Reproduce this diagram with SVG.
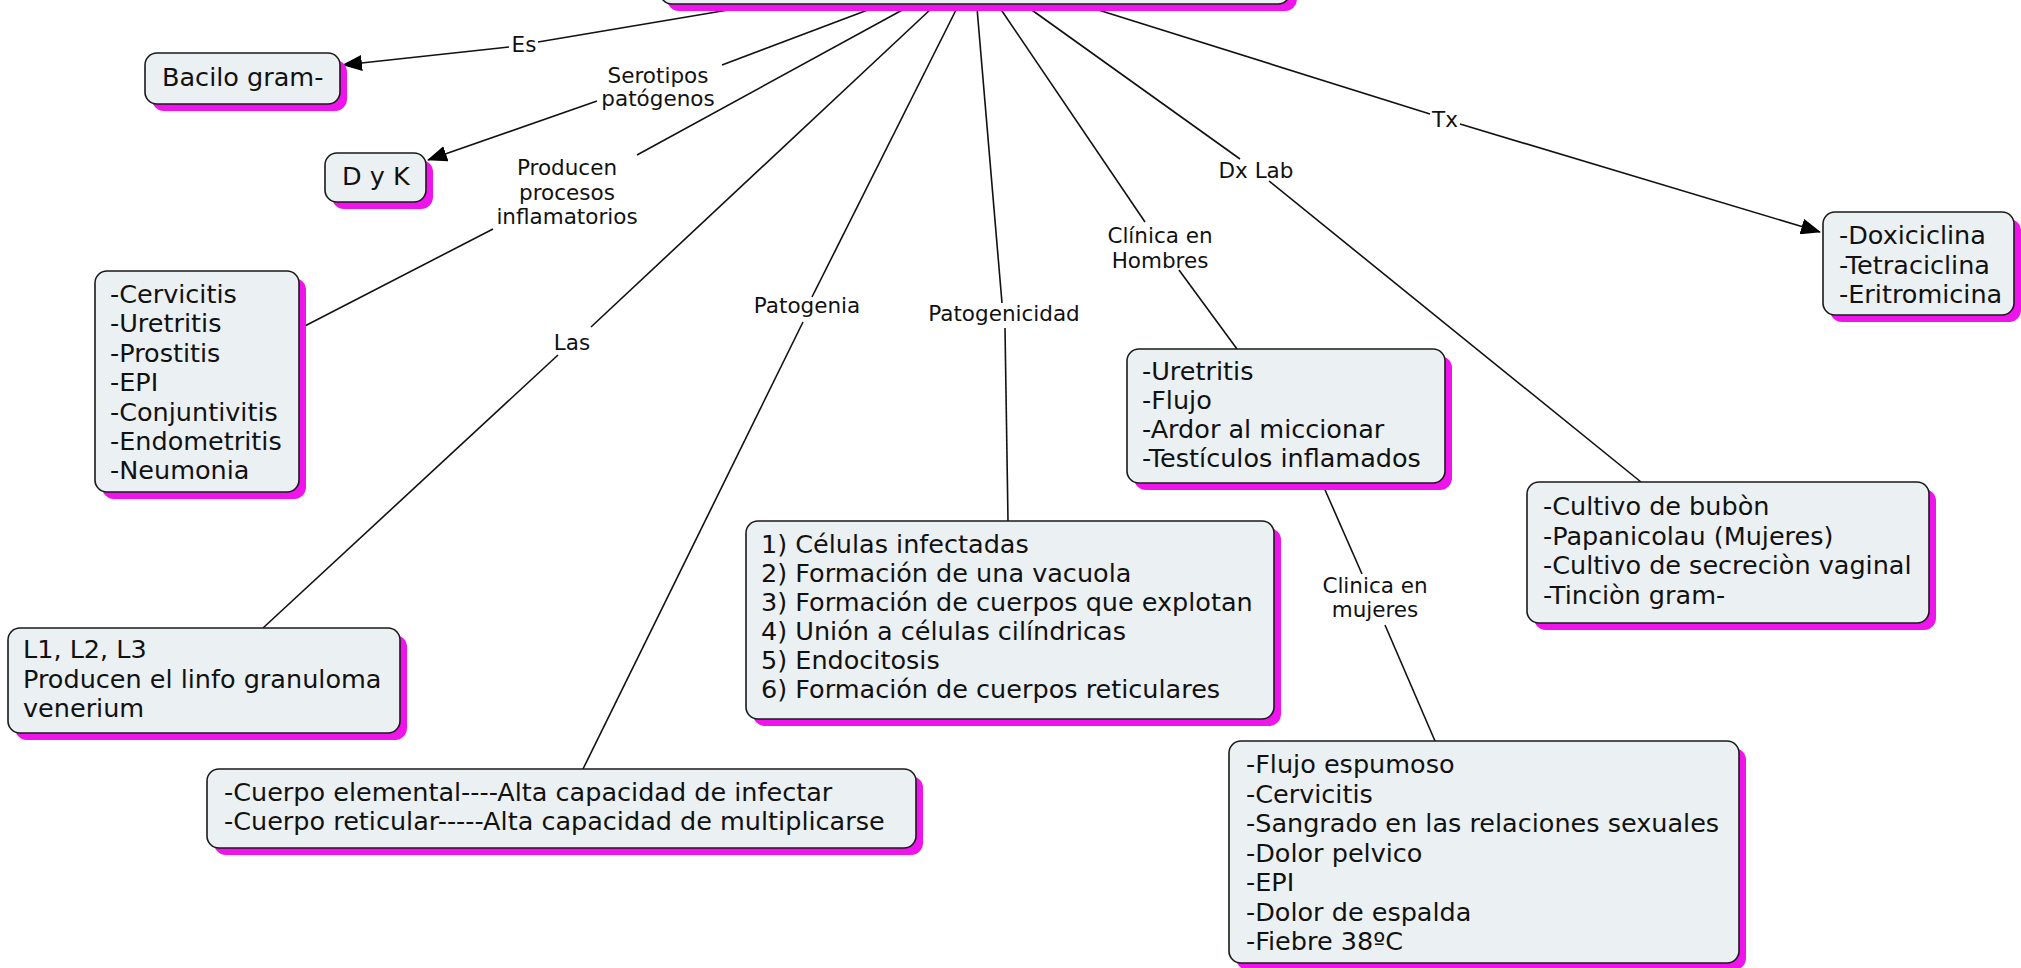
<svg xmlns="http://www.w3.org/2000/svg" width="2021" height="968" viewBox="0 0 2021 968">
<defs>
<style>
.box{fill:#ebf0f3;stroke:#1a1a1a;stroke-width:1.6}
.sh{fill:#f014ec}
.nt{font-family:"DejaVu Sans",Verdana,sans-serif;font-size:25.5px;fill:#111}
.lt{font-family:"DejaVu Sans",Verdana,sans-serif;font-size:21.5px;fill:#111;text-anchor:middle}
.c{stroke:#111;stroke-width:1.6;fill:none}
</style>
<marker id="arr" viewBox="0 0 20 16" refX="19" refY="8" markerWidth="20" markerHeight="16" markerUnits="userSpaceOnUse" orient="auto">
<path d="M0,0 L20,8 L0,16 z" fill="#000"/>
</marker>
</defs>
<rect width="2021" height="968" fill="#fff"/>

<g id="connectors">
<line class="c" x1="740" y1="8" x2="538" y2="42"/>
<line class="c" x1="509" y1="47" x2="343" y2="65" marker-end="url(#arr)"/>
<line class="c" x1="873" y1="8" x2="722" y2="65"/>
<line class="c" x1="597" y1="101" x2="428" y2="160" marker-end="url(#arr)"/>
<line class="c" x1="906" y1="8" x2="637" y2="155"/>
<line class="c" x1="493" y1="229" x2="299" y2="329"/>
<line class="c" x1="932" y1="8" x2="591" y2="327"/>
<line class="c" x1="558" y1="355" x2="263" y2="628"/>
<line class="c" x1="957" y1="8" x2="812" y2="297"/>
<line class="c" x1="803" y1="322" x2="583" y2="769"/>
<line class="c" x1="977" y1="8" x2="1002" y2="303"/>
<line class="c" x1="1005" y1="328" x2="1008" y2="521"/>
<line class="c" x1="1000" y1="8" x2="1145" y2="222"/>
<line class="c" x1="1179" y1="270" x2="1237" y2="349"/>
<line class="c" x1="1029" y1="8" x2="1240" y2="159"/>
<line class="c" x1="1269" y1="181" x2="1641" y2="482"/>
<line class="c" x1="1092" y1="8" x2="1430" y2="114"/>
<line class="c" x1="1460" y1="124" x2="1820" y2="232" marker-end="url(#arr)"/>
<line class="c" x1="1322" y1="483" x2="1362" y2="574"/>
<line class="c" x1="1385" y1="625" x2="1435" y2="741"/>
</g>

<g id="labels">
<text class="lt" x="524" y="52">Es</text>
<text class="lt" x="658" y="83">Serotipos<tspan x="658" dy="23">patógenos</tspan></text>
<text class="lt" x="567" y="175">Producen<tspan x="567" dy="24.5">procesos</tspan><tspan x="567" dy="24.5">inflamatorios</tspan></text>
<text class="lt" x="572" y="350">Las</text>
<text class="lt" x="807" y="313">Patogenia</text>
<text class="lt" x="1004" y="321">Patogenicidad</text>
<text class="lt" x="1160" y="243">Clínica en<tspan x="1160" dy="24.5">Hombres</tspan></text>
<text class="lt" x="1256" y="178">Dx Lab</text>
<text class="lt" x="1445" y="127">Tx</text>
<text class="lt" x="1375" y="593">Clinica en<tspan x="1375" dy="24">mujeres</tspan></text>
</g>

<g id="n_top">
<rect class="sh" x="667" y="-53" width="630" height="64" rx="12"/>
<rect class="box" x="660" y="-60" width="630" height="64" rx="12"/>
</g>

<g id="n_bacilo">
<rect class="sh" x="152" y="60" width="195" height="51" rx="12"/>
<rect class="box" x="145" y="53" width="195" height="51" rx="12"/>
<text class="nt" x="162" y="86">Bacilo gram-</text>
</g>

<g id="n_dyk">
<rect class="sh" x="332" y="160" width="101" height="49" rx="12"/>
<rect class="box" x="325" y="153" width="101" height="49" rx="12"/>
<text class="nt" x="342" y="185">D y K</text>
</g>

<g id="n_cerv">
<rect class="sh" x="102" y="278" width="204" height="221" rx="12"/>
<rect class="box" x="95" y="271" width="204" height="221" rx="12"/>
<text class="nt" x="110" y="303">-Cervicitis<tspan x="110" dy="29.4">-Uretritis</tspan><tspan x="110" dy="29.4">-Prostitis</tspan><tspan x="110" dy="29.4">-EPI</tspan><tspan x="110" dy="29.4">-Conjuntivitis</tspan><tspan x="110" dy="29.4">-Endometritis</tspan><tspan x="110" dy="29.4">-Neumonia</tspan></text>
</g>

<g id="n_l1">
<rect class="sh" x="15" y="635" width="392" height="105" rx="12"/>
<rect class="box" x="8" y="628" width="392" height="105" rx="12"/>
<text class="nt" x="23" y="658">L1, L2, L3<tspan x="23" dy="29.5">Producen el linfo granuloma</tspan><tspan x="23" dy="29.5">venerium</tspan></text>
</g>

<g id="n_cuerpo">
<rect class="sh" x="214" y="776" width="709" height="79" rx="12"/>
<rect class="box" x="207" y="769" width="709" height="79" rx="12"/>
<text class="nt" x="224" y="801">-Cuerpo elemental----Alta capacidad de infectar<tspan x="224" dy="29">-Cuerpo reticular-----Alta capacidad de multiplicarse</tspan></text>
</g>

<g id="n_num">
<rect class="sh" x="753" y="528" width="528" height="198" rx="12"/>
<rect class="box" x="746" y="521" width="528" height="198" rx="12"/>
<text class="nt" x="761" y="553">1) Células infectadas<tspan x="761" dy="29">2) Formación de una vacuola</tspan><tspan x="761" dy="29">3) Formación de cuerpos que explotan</tspan><tspan x="761" dy="29">4) Unión a células cilíndricas</tspan><tspan x="761" dy="29">5) Endocitosis</tspan><tspan x="761" dy="29">6) Formación de cuerpos reticulares</tspan></text>
</g>

<g id="n_uret">
<rect class="sh" x="1134" y="356" width="318" height="134" rx="12"/>
<rect class="box" x="1127" y="349" width="318" height="134" rx="12"/>
<text class="nt" x="1142" y="380">-Uretritis<tspan x="1142" dy="29">-Flujo</tspan><tspan x="1142" dy="29">-Ardor al miccionar</tspan><tspan x="1142" dy="29">-Testículos inflamados</tspan></text>
</g>

<g id="n_flujo">
<rect class="sh" x="1236" y="748" width="510" height="222" rx="12"/>
<rect class="box" x="1229" y="741" width="510" height="222" rx="12"/>
<text class="nt" x="1246" y="773">-Flujo espumoso<tspan x="1246" dy="29.5">-Cervicitis</tspan><tspan x="1246" dy="29.5">-Sangrado en las relaciones sexuales</tspan><tspan x="1246" dy="29.5">-Dolor pelvico</tspan><tspan x="1246" dy="29.5">-EPI</tspan><tspan x="1246" dy="29.5">-Dolor de espalda</tspan><tspan x="1246" dy="29.5">-Fiebre 38ºC</tspan></text>
</g>

<g id="n_cultivo">
<rect class="sh" x="1534" y="489" width="402" height="141" rx="12"/>
<rect class="box" x="1527" y="482" width="402" height="141" rx="12"/>
<text class="nt" x="1543" y="515">-Cultivo de bubòn<tspan x="1543" dy="29.5">-Papanicolau (Mujeres)</tspan><tspan x="1543" dy="29.5">-Cultivo de secreciòn vaginal</tspan><tspan x="1543" dy="29.5">-Tinciòn gram-</tspan></text>
</g>

<g id="n_doxi">
<rect class="sh" x="1830" y="219" width="191" height="103" rx="12"/>
<rect class="box" x="1823" y="212" width="191" height="103" rx="12"/>
<text class="nt" x="1839" y="244">-Doxiciclina<tspan x="1839" dy="29.5">-Tetraciclina</tspan><tspan x="1839" dy="29.5">-Eritromicina</tspan></text>
</g>
</svg>
